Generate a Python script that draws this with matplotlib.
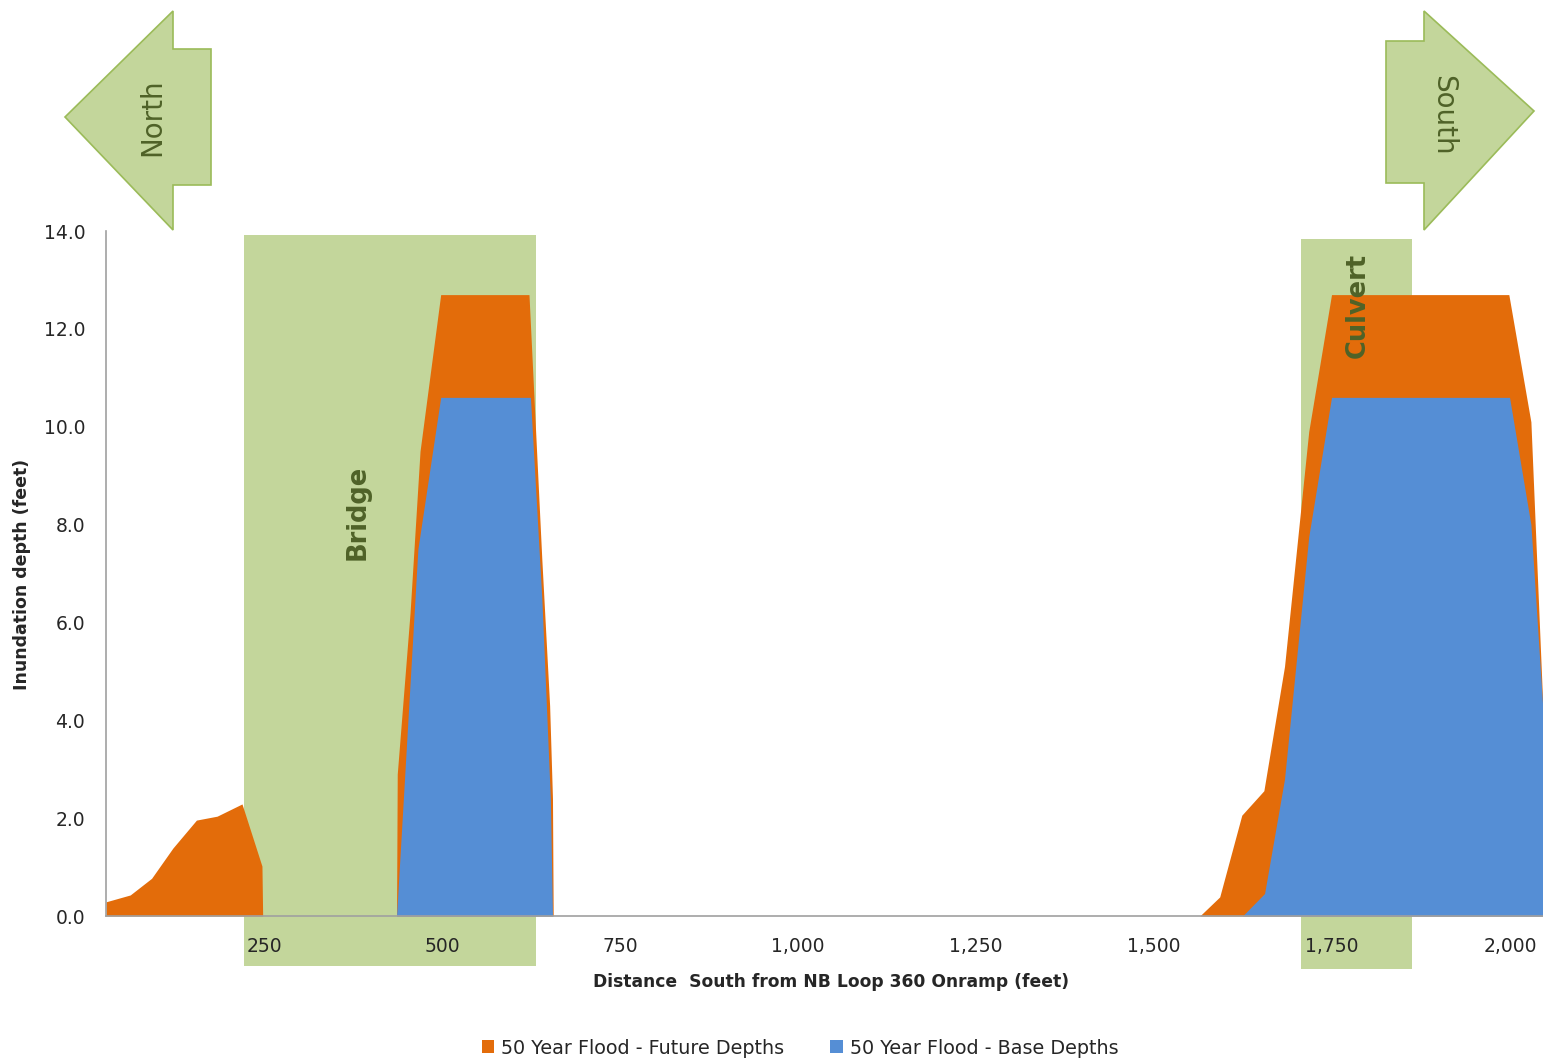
import numpy as np
import matplotlib
matplotlib.use("Agg")
import matplotlib.pyplot as plt
from matplotlib.patches import Polygon, Rectangle, Patch
from matplotlib.ticker import FuncFormatter, MultipleLocator

# ==================================================
# DATA (distance in feet, depth in feet)
# ==================================================
future_x = [28, 62, 92, 122, 155, 184, 219, 247, 248,
            436, 437, 455, 469, 498, 622, 640, 651, 655, 656,
            1564, 1592, 1623, 1654, 1683, 1717, 1749, 1998, 2029, 2046]
future_y = [0.29, 0.43, 0.77, 1.39, 1.96, 2.04, 2.29, 1.02, 0.0,
            0.0, 2.9, 6.2, 9.5, 12.7, 12.7, 7.3, 4.3, 2.4, 0.0,
            0.0, 0.39, 2.06, 2.56, 5.1, 9.9, 12.7, 12.7, 10.1, 4.2]

base_x = [28, 436, 466, 498, 624, 640, 652, 655,
          1624, 1655, 1683, 1717, 1749, 1999, 2029, 2046]
base_y = [0.0, 0.0, 7.5, 10.6, 10.6, 6.5, 2.4, 0.0,
          0.0, 0.46, 2.8, 7.75, 10.6, 10.6, 8.0, 4.2]

SERIES_NAMES = ["50 Year Flood - Future Depths", "50 Year Flood - Base Depths"]

# structures (x extent in feet)
BRIDGE_X = (222, 632)
CULVERT_X = (1706, 1862)

# ==================================================
# STYLE
# ==================================================
ORANGE = "#E36C0A"
BLUE = "#558ED5"
GREEN_FILL = "#C3D69B"
GREEN_EDGE = "#9BBB59"
GREEN_TEXT = "#4F6228"
AXIS_GRAY = "#A0A0A0"
TEXT = "#262626"

plt.rcParams["font.family"] = ["DejaVu Sans"]

W, H = 1543, 1060
fig = plt.figure(figsize=(W / 100, H / 100), dpi=100)


def fx(px):
    return px / W


def fy(py):
    return 1 - py / H


ax = fig.add_axes([fx(106), fy(916), fx(1543) - fx(106), fy(231) - fy(916)])
ax.set_xlim(28, 2046)
ax.set_ylim(0, 14)

# ==================================================
# STRUCTURE BACKGROUNDS
# ==================================================
ax.add_patch(Rectangle((BRIDGE_X[0], -1.02), BRIDGE_X[1] - BRIDGE_X[0], 14.94,
                       facecolor=GREEN_FILL, edgecolor="none", zorder=0.5, clip_on=False))
ax.add_patch(Rectangle((CULVERT_X[0], -1.08), CULVERT_X[1] - CULVERT_X[0], 14.92,
                       facecolor=GREEN_FILL, edgecolor="none", zorder=0.5, clip_on=False))

# ==================================================
# AREAS
# ==================================================
ax.fill_between(future_x, future_y, 0, color=ORANGE, linewidth=0, zorder=1)
ax.fill_between(base_x, base_y, 0, color=BLUE, linewidth=0, zorder=1.1)

ax.text(np.mean(BRIDGE_X) - 45, 8.25, "Bridge", rotation=90, ha="center", va="center",
        fontsize=18.5, fontweight="bold", color=GREEN_TEXT, zorder=3)
ax.text(np.mean(CULVERT_X) + 2, 12.48, "Culvert", rotation=90, ha="center", va="center",
        fontsize=18.5, fontweight="bold", color=GREEN_TEXT, zorder=3)

# ==================================================
# AXES
# ==================================================
for s in ["top", "right"]:
    ax.spines[s].set_visible(False)
for s in ["left", "bottom"]:
    ax.spines[s].set_color(AXIS_GRAY)
    ax.spines[s].set_linewidth(1.2)
    ax.spines[s].set_zorder(2.5)

ax.yaxis.set_major_locator(MultipleLocator(2))
ax.yaxis.set_major_formatter(FuncFormatter(lambda v, p: f"{v:.1f}"))
ax.set_xticks([250, 500, 750, 1000, 1250, 1500, 1750, 2000])
ax.xaxis.set_major_formatter(FuncFormatter(lambda v, p: f"{v:,.0f}"))
ax.tick_params(axis="y", length=0, pad=15, labelsize=13.5, colors=TEXT)
ax.tick_params(axis="x", length=0, pad=15, labelsize=13.5, colors=TEXT)

fig.text(fx(831), fy(982), "Distance  South from NB Loop 360 Onramp (feet)",
         ha="center", va="center", fontsize=12.3, fontweight="bold", color=TEXT)
fig.text(fx(22), fy(574), "Inundation depth (feet)", rotation=90,
         ha="center", va="center", fontsize=12.5, fontweight="bold", color=TEXT)

# ==================================================
# LEGEND
# ==================================================
handles = [Patch(facecolor=ORANGE, edgecolor="none"),
           Patch(facecolor=BLUE, edgecolor="none")]
fig.legend(handles, SERIES_NAMES, loc="center", bbox_to_anchor=(fx(800), fy(1048)),
           ncol=2, frameon=False, fontsize=13.8, handlelength=0.65, handleheight=0.65,
           handletextpad=0.36, columnspacing=2.4, labelcolor=TEXT)

# ==================================================
# DIRECTION ARROWS
# ==================================================
north_px = [(65, 117), (173, 11), (173, 49), (211, 49), (211, 185), (173, 185), (173, 230)]
south_px = [(1386, 41), (1424, 41), (1424, 11), (1534, 111), (1424, 230), (1424, 183), (1386, 183)]
for pts in [north_px, south_px]:
    fig.patches.append(Polygon([(fx(x), fy(y)) for x, y in pts], closed=True,
                               transform=fig.transFigure, facecolor=GREEN_FILL,
                               edgecolor=GREEN_EDGE, linewidth=1.2, zorder=1))
fig.text(fx(152), fy(117), "North", rotation=90, ha="center", va="center",
         fontsize=20, color=GREEN_TEXT, zorder=2)
fig.text(fx(1443), fy(115), "South", rotation=-90, ha="center", va="center",
         fontsize=20, color=GREEN_TEXT, zorder=2)

fig.savefig("out.png", dpi=100)
